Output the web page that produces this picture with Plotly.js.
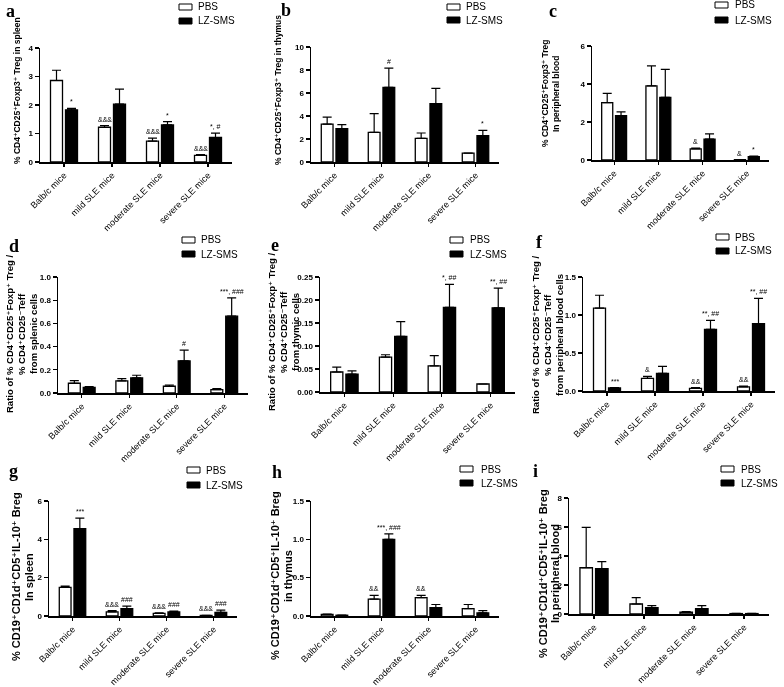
<!DOCTYPE html>
<html><head><meta charset="utf-8">
<script src="https://cdn.plot.ly/plotly-3.0.1.min.js"></script>
<style>body{margin:0;padding:0;background:#fff} #chart{filter:grayscale(1)}</style>
</head><body><div id="chart" style="width:784px;height:687px"></div>
<script>
// ---------- data ----------
const categories = ["Balb/c mice", "mild SLE mice", "moderate SLE mice", "severe SLE mice"];
const seriesNames = ["PBS", "LZ-SMS"];

// a: Treg in spleen
const aPBS = [2.86, 1.22, 0.73, 0.23], aPBSErr = [0.36, 0.06, 0.11, 0.03];
const aLZ = [1.83, 2.03, 1.30, 0.86], aLZErr = [0.05, 0.53, 0.12, 0.15];
const aPBSSig = ["", "&&&", "&&&", "&&&"], aLZSig = ["*", "", "*", "*, #"];
// b: Treg in thymus
const bPBS = [3.30, 2.58, 2.06, 0.78], bPBSErr = [0.61, 1.62, 0.46, 0];
const bLZ = [2.90, 6.49, 5.07, 2.29], bLZErr = [0.35, 1.68, 1.34, 0.46];
const bPBSSig = ["", "", "", ""], bLZSig = ["", "#", "", "*"];
// c: Treg in peripheral blood
const cPBS = [3.02, 3.90, 0.59, 0.02], cPBSErr = [0.49, 1.05, 0.04, 0];
const cLZ = [2.33, 3.30, 1.10, 0.17], cLZErr = [0.20, 1.47, 0.28, 0.04];
const cPBSSig = ["", "", "&", "&"], cLZSig = ["", "", "", "*"];
// d: ratio, splenic cells
const dPBS = [0.084, 0.104, 0.058, 0.029], dPBSErr = [0.023, 0.020, 0.011, 0.009];
const dLZ = [0.049, 0.130, 0.277, 0.662], dLZErr = [0.006, 0.023, 0.093, 0.158];
const dPBSSig = ["", "", "", ""], dLZSig = ["", "", "#", "***, ###"];
// e: ratio, thymic cells
const ePBS = [0.0435, 0.076, 0.057, 0.0174], ePBSErr = [0.0105, 0.005, 0.022, 0];
const eLZ = [0.039, 0.121, 0.184, 0.183], eLZErr = [0.007, 0.032, 0.050, 0.043];
const ePBSSig = ["", "", "", ""], eLZSig = ["", "", "*, ##", "**, ##"];
// f: ratio, peripheral blood cells
const fPBS = [1.09, 0.167, 0.035, 0.053], fPBSErr = [0.17, 0.026, 0.009, 0.013];
const fLZ = [0.04, 0.232, 0.81, 0.886], fLZErr = [0.005, 0.093, 0.12, 0.334];
const fPBSSig = ["", "&", "&&", "&&"], fLZSig = ["***", "", "**, ##", "**, ##"];
// g: Breg in spleen
const gPBS = [1.49, 0.21, 0.14, 0.03], gPBSErr = [0.07, 0.07, 0.02, 0.01];
const gLZ = [4.56, 0.38, 0.21, 0.19], gLZErr = [0.55, 0.14, 0.05, 0.12];
const gPBSSig = ["", "&&&", "&&&", "&&&"], gLZSig = ["***", "###", "###", "###"];
// h: Breg in thymus
const hPBS = [0.02, 0.22, 0.24, 0.095], hPBSErr = [0.005, 0.05, 0.03, 0.055];
const hLZ = [0.01, 1.00, 0.11, 0.04], hLZErr = [0.003, 0.07, 0.04, 0.03];
const hPBSSig = ["", "&&", "&&", ""], hLZSig = ["", "***, ###", "", ""];
// i: Breg in peripheral blood
const iPBS = [3.19, 0.69, 0.12, 0.03], iPBSErr = [2.78, 0.44, 0.04, 0.01];
const iLZ = [3.12, 0.44, 0.37, 0.03], iLZErr = [0.49, 0.14, 0.21, 0.01];
const iPBSSig = ["", "", "", ""], iLZSig = ["", "", "", ""];

// y tick values
const aTicks = [0, 1, 2, 3, 4];
const bTicks = [0, 2, 4, 6, 8, 10];
const cTicks = [0, 2, 4, 6];
const dTicks = [0, 0.2, 0.4, 0.6, 0.8, 1.0];
const eTicks = [0, 0.05, 0.10, 0.15, 0.20, 0.25];
const fTicks = [0, 0.5, 1.0, 1.5];
const gTicks = [0, 2, 4, 6];
const hTicks = [0, 0.5, 1.0, 1.5];
const iTicks = [0, 2, 4, 6, 8];

const letters = ["a", "b", "c", "d", "e", "f", "g", "h", "i"];
const treg = "CD4\u207ACD25\u207AFoxp3\u207A Treg";
const ratio1 = "Ratio of % CD4\u207ACD25\u207AFoxp\u207A Treg /";
const ratio2 = "% CD4\u207ACD25\u207BTeff";
const breg = "% CD19\u207ACD1d\u207ACD5\u207AIL-10\u207A Breg";
const yTitles = [
  ["% " + treg + " in spleen"],
  ["% " + treg + " in thymus"],
  ["% " + treg, "In peripheral blood"],
  [ratio1, ratio2, "from splenic cells"],
  [ratio1, ratio2, "from thymic cells"],
  [ratio1, ratio2, "from peripheral blood cells"],
  [breg, "In spleen"],
  [breg, "in thymus"],
  [breg, "In peripheral blood"]
];

const panelData = [
  [aPBS, aPBSErr, aLZ, aLZErr, aPBSSig, aLZSig, aTicks, "d"],
  [bPBS, bPBSErr, bLZ, bLZErr, bPBSSig, bLZSig, bTicks, "d"],
  [cPBS, cPBSErr, cLZ, cLZErr, cPBSSig, cLZSig, cTicks, "d"],
  [dPBS, dPBSErr, dLZ, dLZErr, dPBSSig, dLZSig, dTicks, ".1f"],
  [ePBS, ePBSErr, eLZ, eLZErr, ePBSSig, eLZSig, eTicks, ".2f"],
  [fPBS, fPBSErr, fLZ, fLZErr, fPBSSig, fLZSig, fTicks, ".1f"],
  [gPBS, gPBSErr, gLZ, gLZErr, gPBSSig, gLZSig, gTicks, "d"],
  [hPBS, hPBSErr, hLZ, hLZErr, hPBSSig, hLZSig, hTicks, ".1f"],
  [iPBS, iPBSErr, iLZ, iLZErr, iPBSSig, iLZSig, iTicks, "d"]
];

// ---------- geometry (pixels) ----------
const W = 784, H = 687;
// [xLeft, xRight, yTop, yBottom, titleLineXs, titleY, titleSize, letterX, letterY, swatchLeft, row1Y, row2Y, legendTextX]
const geom = [
  [40, 232, 48, 162, [17], 91, 8.5, 4, 11, 179, 7, 21, 196],
  [311, 499, 47, 162, [278], 90, 8.5, 279, 10, 447, 7, 20, 464],
  [592, 769, 46, 160, [545, 556], 94, 8.5, 547, 11, 715, 5, 20, 733],
  [58, 248, 277, 393, [10, 22, 34], 334, 9.5, 7, 246, 182, 240, 254, 199],
  [320, 515, 277, 392, [271, 283, 295], 332, 9.5, 269, 245, 450, 240, 254, 468],
  [583, 775, 277, 391, [535, 547, 559], 335, 9.5, 534, 242, 716, 237, 251, 733],
  [49, 237, 501, 616, [16, 29], 577, 11, 7, 471, 187, 470, 485, 204],
  [311, 499, 501, 616, [275, 288], 576, 11, 270, 472, 460, 469, 483, 479],
  [569, 769, 498, 614, [543, 555], 574, 11, 531, 471, 721, 469, 483, 739]
];

const FONT = "Arial, 'Liberation Sans', 'DejaVu Sans', sans-serif";
const traces = [];
const layout = {
  width: W, height: H, autosize: false,
  margin: {l: 0, r: 0, t: 0, b: 0},
  paper_bgcolor: "#fff", plot_bgcolor: "rgba(0,0,0,0)",
  barmode: "group", bargap: 0.375, bargroupgap: 0.2,
  showlegend: false,
  font: {family: FONT, color: "#000", size: 9},
  annotations: [], shapes: []
};

const off = (1 - layout.bargap) / 4;
const fills = ["#fff", "#000"];

panelData.forEach((p, k) => {
  const [pbs, pbsErr, lz, lzErr, pbsSig, lzSig, ticks, fmt] = p;
  const g = geom[k];
  const n = k + 1;
  const xid = n === 1 ? "x" : "x" + n;
  const yid = n === 1 ? "y" : "y" + n;
  const errStyle = {type: "data", symmetric: false, arrayminus: [0, 0, 0, 0], color: "#000", thickness: 1.2, width: 4.5};
  traces.push({
    type: "bar", name: seriesNames[0], x: categories, y: pbs, xaxis: xid, yaxis: yid,
    marker: {color: fills[0], line: {color: "#000", width: 1.3}},
    error_y: Object.assign({}, errStyle, {array: pbsErr}), hoverinfo: "y"
  });
  traces.push({
    type: "bar", name: seriesNames[1], x: categories, y: lz, xaxis: xid, yaxis: yid,
    marker: {color: fills[1], line: {color: "#000", width: 1.3}},
    error_y: Object.assign({}, errStyle, {array: lzErr}), hoverinfo: "y"
  });
  layout[n === 1 ? "xaxis" : "xaxis" + n] = {
    domain: [g[0] / W, g[1] / W], anchor: yid, range: [-0.5, 3.5],
    showline: true, linecolor: "#000", linewidth: 1.5,
    ticks: "outside", ticklen: 3, tickwidth: 1.2, tickcolor: "#000",
    tickangle: -45, tickfont: {family: FONT, size: 9, color: "#000"},
    showgrid: false, zeroline: false, automargin: false, fixedrange: true
  };
  const ymax = ticks[ticks.length - 1];
  layout[n === 1 ? "yaxis" : "yaxis" + n] = {
    domain: [1 - g[3] / H, 1 - g[2] / H], anchor: xid, range: [0, ymax],
    showline: true, linecolor: "#000", linewidth: 1.5,
    ticks: "outside", ticklen: 4, tickwidth: 1.2, tickcolor: "#000",
    tickvals: ticks, tickformat: fmt,
    tickfont: {family: FONT, size: 8, color: "#000", weight: "bold"},
    showgrid: false, zeroline: false, automargin: false, fixedrange: true
  };
  // legend (swatch + label per series)
  [g[10], g[11]].forEach((cy, s) => {
    layout.shapes.push({
      type: "rect", xref: "paper", yref: "paper",
      x0: g[9] / W, x1: (g[9] + 13) / W, y0: 1 - (cy + 3) / H, y1: 1 - (cy - 3) / H,
      fillcolor: fills[s], line: {color: "#000", width: 1}
    });
    layout.annotations.push({
      xref: "paper", yref: "paper", x: g[12] / W, y: 1 - cy / H,
      xanchor: "left", yanchor: "middle", showarrow: false, text: seriesNames[s],
      font: {family: FONT, size: 10, color: "#000"}
    });
  });
  // y-axis title, one annotation per line
  yTitles[k].forEach((line, li) => {
    layout.annotations.push({
      xref: "paper", yref: "paper", x: g[4][li] / W, y: 1 - g[5] / H,
      xanchor: "center", yanchor: "middle", textangle: -90, showarrow: false,
      text: line,
      font: {family: FONT, size: g[6], color: "#000", weight: "bold"}
    });
  });
  // panel letter
  layout.annotations.push({
    xref: "paper", yref: "paper", x: g[7] / W, y: 1 - g[8] / H,
    xanchor: "left", yanchor: "middle", showarrow: false, text: letters[k],
    font: {family: "'Times New Roman', 'Liberation Serif', serif", size: 18, color: "#000", weight: "bold"}
  });
  // significance marks
  for (let j = 0; j < categories.length; j++) {
    [[pbsSig, pbs, pbsErr, -off], [lzSig, lz, lzErr, off]].forEach(([sig, v, e, dx]) => {
      if (!sig[j]) return;
      layout.annotations.push({
        xref: xid, yref: yid, x: j + dx, y: v[j] + e[j],
        xanchor: "center", yanchor: "bottom", yshift: 1, showarrow: false,
        text: sig[j], font: {family: FONT, size: 7, color: "#000"}
      });
    });
  }
});

Plotly.newPlot("chart", traces, layout, {staticPlot: true, displayModeBar: false});
</script>
</body></html>
